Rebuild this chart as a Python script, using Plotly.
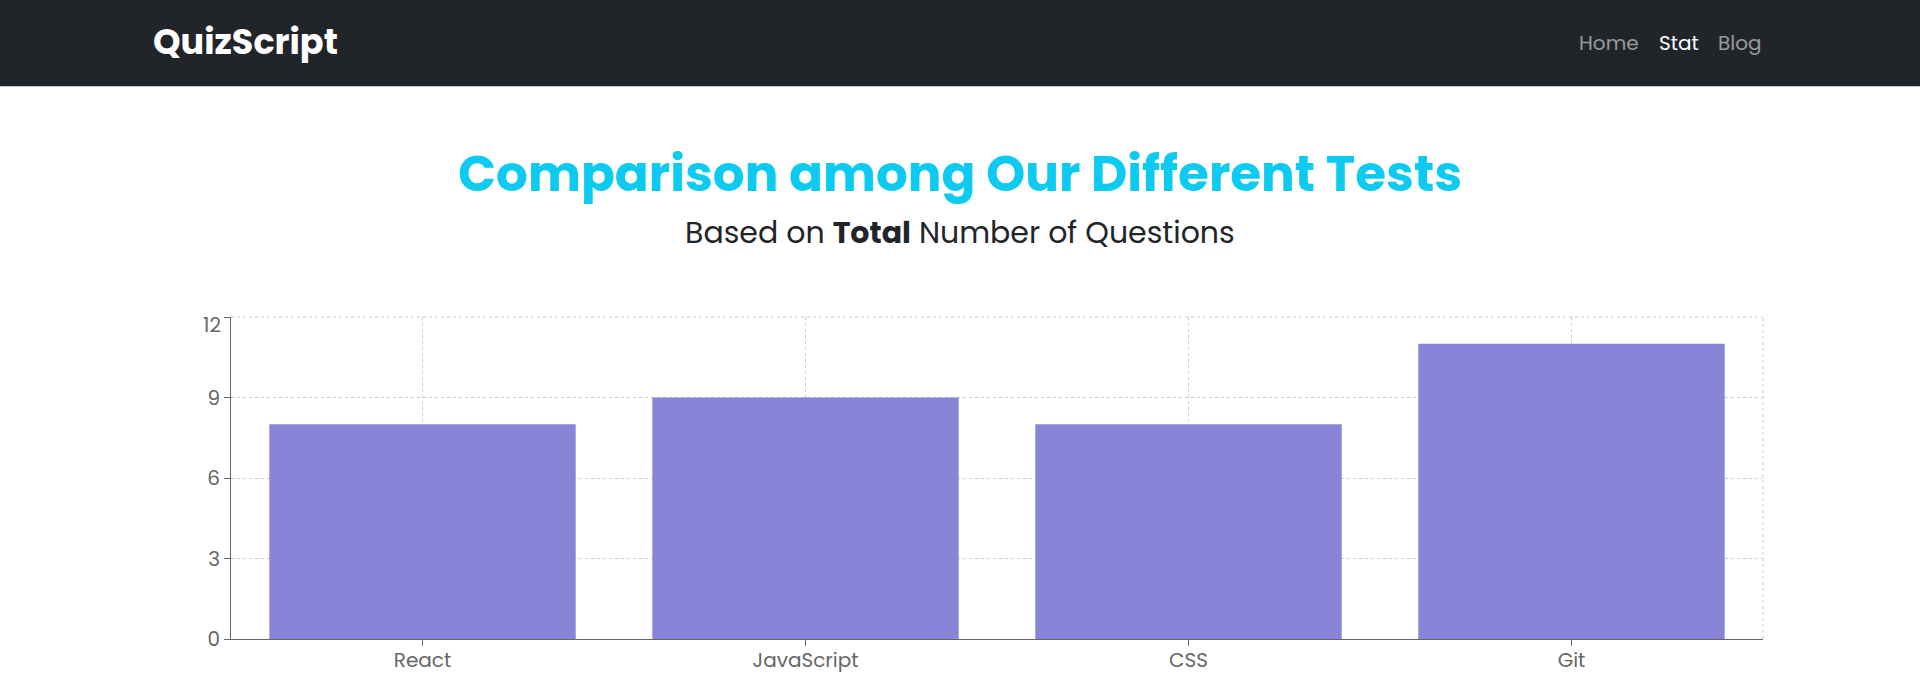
import plotly.graph_objects as go

categories = ["React", "JavaScript", "CSS", "Git"]
totals = [8, 9, 8, 11]
y_ticks = [0, 3, 6, 9, 12]

W, H = 1920, 686
L, R, T, B = 231, 1920 - 1763, 317, 686 - 642
plot_h = H - T - B
pw = W - L - R

def py(px):
    # convert a pixel y (from top) to paper coordinate
    return (H - B - px) / plot_h

def pxx(px):
    return (px - L) / pw

FONT = "Poppins, 'Open Sans', sans-serif"
GRID = "#cccccc"
DASH = "3px,3px"
TICK_COLOR = "#666666"

# the top tick label is drawn slightly below its gridline in the reference
tick_text = [str(v) for v in y_ticks[:-1]] + [""]

fig = go.Figure(go.Bar(
    x=categories, y=totals,
    marker=dict(color="#8884d8", line=dict(width=0)),
    hoverinfo="x+y",
))

fig.update_layout(
    width=W, height=H,
    margin=dict(l=L, r=R, t=T, b=B),
    paper_bgcolor="white", plot_bgcolor="white",
    bargap=0.2, showlegend=False,
    font=dict(family=FONT),
    xaxis=dict(
        type="category", range=[-0.5, 3.5],
        showgrid=True, gridcolor=GRID, griddash=DASH, gridwidth=1,
        showline=True, linecolor=TICK_COLOR, linewidth=1,
        ticks="outside", ticklen=6, tickcolor=TICK_COLOR,
        tickfont=dict(size=20, color=TICK_COLOR, family=FONT),
        ticklabelstandoff=-3,
        zeroline=False,
    ),
    yaxis=dict(
        range=[0, 12], tickvals=y_ticks, ticktext=tick_text,
        showgrid=True, gridcolor=GRID, griddash=DASH, gridwidth=1,
        showline=True, linecolor=TICK_COLOR, linewidth=1,
        ticks="outside", ticklen=6, tickcolor=TICK_COLOR,
        tickfont=dict(size=20, color=TICK_COLOR, family=FONT),
        zeroline=False,
    ),
    shapes=[
        # navbar background
        dict(type="rect", xref="paper", yref="paper",
             x0=-L / pw - 0.05, x1=(W - L) / pw + 0.05,
             y0=py(84), y1=py(-20), fillcolor="#212529", line=dict(width=0), layer="below"),
        # right dashed border of grid
        dict(type="line", xref="x domain", yref="y domain", x0=1, x1=1, y0=0, y1=1,
             line=dict(color=GRID, width=1, dash=DASH), layer="below"),
        # top dashed border of grid
        dict(type="line", xref="x domain", yref="y domain", x0=0, x1=1, y0=1, y1=1,
             line=dict(color=GRID, width=1, dash=DASH), layer="below"),
    ],
)

annotations = [
    dict(text="<b>QuizScript</b>", x=pxx(151), y=py(39), xanchor="left", yanchor="middle",
         font=dict(size=35, color="white", family=FONT)),
    dict(text="Home", x=pxx(1577), y=py(40), xanchor="left", yanchor="middle",
         font=dict(size=20, color="rgba(255,255,255,0.55)", family=FONT)),
    dict(text="Stat", x=pxx(1657), y=py(40), xanchor="left", yanchor="middle",
         font=dict(size=20, color="white", family=FONT)),
    dict(text="Blog", x=pxx(1716), y=py(40), xanchor="left", yanchor="middle",
         font=dict(size=20, color="rgba(255,255,255,0.55)", family=FONT)),
    dict(text="<b>Comparison among Our Different Tests</b>", x=pxx(960), y=py(172),
         xanchor="center", yanchor="middle",
         font=dict(size=50, color="#0dcaf0", family=FONT)),
    dict(text="Based on <b>Total</b> Number of Questions", x=pxx(960), y=py(232),
         xanchor="center", yanchor="middle",
         font=dict(size=30, color="#212529", family=FONT)),
]
for a in annotations:
    a.update(xref="paper", yref="paper", showarrow=False)

# top y tick label, nudged down as in the reference
annotations.append(dict(
    text=str(y_ticks[-1]), xref="paper", yref="y", x=pxx(223), y=y_ticks[-1],
    xanchor="right", yanchor="middle", yshift=-8, showarrow=False,
    font=dict(size=20, color=TICK_COLOR, family=FONT),
))
fig.update_layout(annotations=annotations)

fig.write_html("out.html", config={"displayModeBar": False})
